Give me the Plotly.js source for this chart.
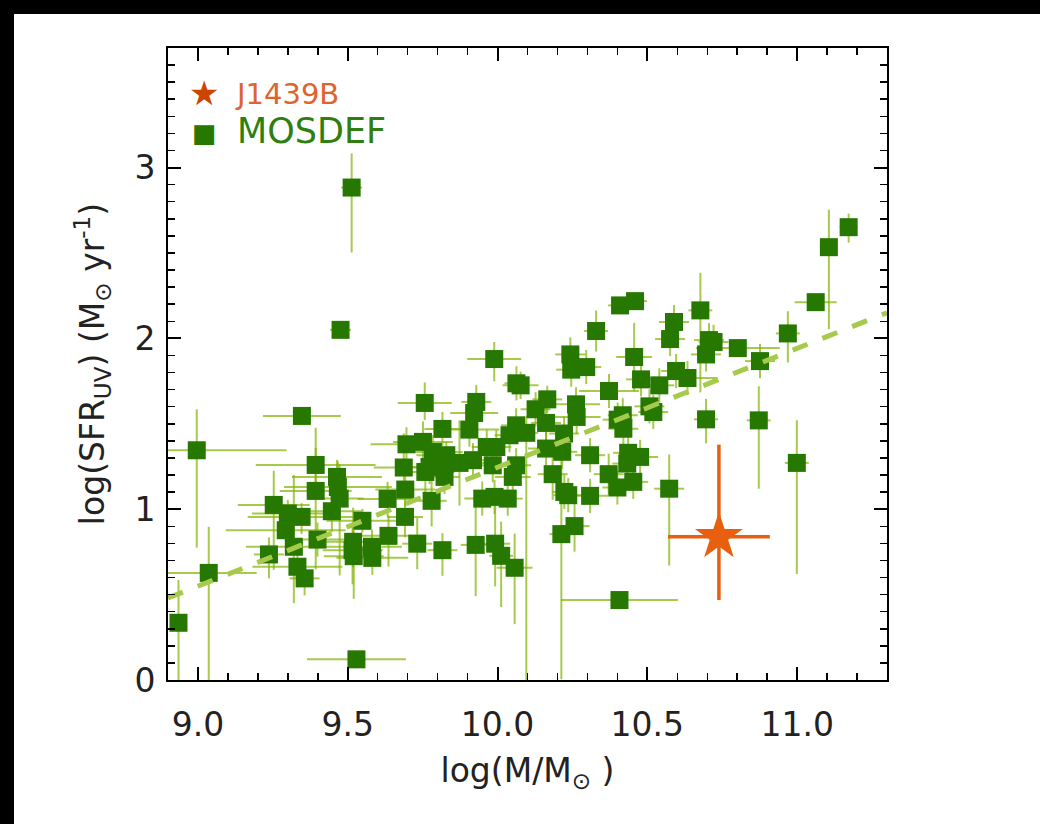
<!DOCTYPE html>
<html>
<head>
<meta charset="utf-8">
<script src="https://cdn.plot.ly/plotly-3.0.1.min.js"></script>
<style>
  html, body { margin: 0; padding: 0; background: #000; }
  #chart { position: absolute; left: 14px; top: 14px; width: 1026px; height: 810px; background: #fff; }
</style>
</head>
<body>
<div id="chart"></div>
<script>
// MOSDEF sample: log stellar mass, log SFR(UV) and errors
const mass = [8.935, 8.996, 9.036, 9.237, 9.253, 9.300, 9.346, 9.293, 9.320, 9.332, 9.356, 9.347, 9.393, 9.393, 9.399, 9.447, 9.464, 9.467, 9.473, 9.476, 9.513, 9.529, 9.516, 9.518, 9.520, 9.549, 9.581, 9.582, 9.633, 9.636, 9.687, 9.692, 9.691, 9.696, 9.751, 9.757, 9.759, 9.780, 9.732, 9.816, 9.816, 9.823, 9.826, 9.829, 9.784, 9.773, 9.873, 9.906, 9.918, 9.922, 9.929, 9.927, 9.949, 9.964, 9.996, 9.984, 9.989, 9.990, 9.992, 10.012, 10.034, 10.040, 10.051, 10.057, 10.062, 10.062, 10.063, 10.077, 10.096, 10.127, 10.162, 10.166, 10.162, 10.184, 10.216, 10.213, 10.222, 10.223, 10.236, 10.243, 10.246, 10.257, 10.262, 10.264, 10.296, 10.309, 10.309, 10.329, 10.371, 10.372, 10.400, 10.401, 10.407, 10.409, 10.418, 10.420, 10.433, 10.436, 10.453, 10.456, 10.459, 10.476, 10.479, 10.507, 10.520, 10.540, 10.573, 10.576, 10.589, 10.596, 10.634, 10.677, 10.696, 10.696, 10.706, 10.721, 10.802, 10.872, 10.876, 10.969, 10.999, 11.062, 11.106, 11.172];
const sfr = [0.335, 1.345, 0.627, 0.735, 1.025, 0.975, 0.955, 0.877, 0.780, 0.663, 0.595, 1.546, 1.259, 1.107, 0.822, 0.988, 1.189, 1.130, 1.062, 2.050, 2.883, 0.121, 0.760, 0.809, 0.725, 0.932, 0.780, 0.715, 1.060, 0.844, 1.244, 1.115, 0.955, 1.380, 1.394, 1.622, 1.218, 1.049, 0.798, 0.760, 1.470, 1.189, 1.267, 1.316, 1.335, 1.247, 1.271, 1.466, 1.287, 1.563, 1.628, 0.791, 1.062, 1.364, 1.364, 1.257, 1.879, 1.072, 0.798, 0.727, 1.062, 1.433, 1.189, 0.657, 1.491, 1.257, 1.737, 1.725, 1.447, 1.585, 1.505, 1.643, 1.355, 1.205, 1.336, 0.854, 1.443, 1.101, 1.082, 1.906, 1.817, 0.901, 1.614, 1.540, 1.832, 1.078, 1.316, 2.043, 1.205, 1.692, 1.127, 1.524, 0.468, 2.193, 1.550, 1.471, 1.267, 1.330, 1.160, 1.891, 2.218, 1.306, 1.760, 1.602, 1.569, 1.725, 1.120, 1.996, 2.096, 1.809, 1.768, 2.164, 1.906, 1.526, 1.990, 1.979, 1.943, 1.520, 1.867, 2.029, 1.271, 2.212, 2.534, 2.651];
const massErr = [0.02, 0.30, 0.16, 0.05, 0.12, 0.12, 0.18, 0.20, 0.16, 0.15, 0.05, 0.13, 0.20, 0.12, 0.10, 0.10, 0.15, 0.18, 0.08, 0.035, 0.035, 0.165, 0.10, 0.12, 0.10, 0.12, 0.10, 0.12, 0.10, 0.12, 0.10, 0.10, 0.06, 0.12, 0.10, 0.09, 0.08, 0.05, 0.05, 0.05, 0.06, 0.05, 0.08, 0.10, 0.10, 0.08, 0.10, 0.10, 0.05, 0.08, 0.05, 0.05, 0.06, 0.05, 0.05, 0.05, 0.09, 0.05, 0.05, 0.04, 0.05, 0.05, 0.06, 0.06, 0.05, 0.05, 0.04, 0.06, 0.04, 0.05, 0.05, 0.05, 0.06, 0.05, 0.05, 0.04, 0.05, 0.04, 0.05, 0.05, 0.05, 0.05, 0.08, 0.08, 0.05, 0.06, 0.05, 0.04, 0.05, 0.10, 0.05, 0.05, 0.195, 0.04, 0.05, 0.05, 0.05, 0.05, 0.05, 0.06, 0.04, 0.06, 0.05, 0.05, 0.05, 0.05, 0.05, 0.05, 0.05, 0.05, 0.10, 0.04, 0.05, 0.04, 0.05, 0.05, 0.14, 0.04, 0.05, 0.04, 0.04, 0.07, 0.03, 0.03];
const sfrErrUp = [0.25, 0.24, 0.27, 0.10, 0.20, 0.08, 0.08, 0.06, 0.42, 0.12, 0.05, 0.05, 0.10, 0.37, 0.10, 0.12, 0.10, 0.15, 0.20, 0.03, 0.20, 0.02, 0.15, 0.20, 0.15, 0.07, 0.10, 0.08, 0.10, 0.12, 0.20, 0.10, 0.10, 0.10, 0.12, 0.12, 0.10, 0.15, 0.15, 0.10, 0.10, 0.12, 0.10, 0.08, 0.10, 0.10, 0.25, 0.15, 0.10, 0.10, 0.10, 0.25, 0.10, 0.10, 0.10, 0.10, 0.10, 0.10, 0.25, 0.20, 0.10, 0.10, 0.10, 0.20, 0.10, 0.10, 0.10, 0.08, 0.10, 0.10, 0.10, 0.08, 0.10, 0.15, 0.10, 0.55, 0.10, 0.10, 0.10, 0.10, 0.10, 0.15, 0.10, 0.10, 0.10, 0.10, 0.10, 0.12, 0.12, 0.10, 0.10, 0.10, 0.02, 0.03, 0.10, 0.10, 0.10, 0.10, 0.10, 0.20, 0.03, 0.10, 0.10, 0.10, 0.10, 0.10, 0.20, 0.10, 0.10, 0.10, 0.10, 0.22, 0.10, 0.12, 0.10, 0.10, 0.05, 0.20, 0.10, 0.13, 0.25, 0.03, 0.22, 0.08];
const sfrErrDown = [0.40, 0.57, 0.65, 0.14, 0.38, 0.08, 0.10, 0.06, 0.33, 0.12, 0.10, 0.05, 0.10, 0.46, 0.10, 0.12, 0.10, 0.15, 0.45, 0.03, 0.38, 0.02, 0.20, 0.15, 0.25, 0.07, 0.10, 0.10, 0.10, 0.18, 0.15, 0.10, 0.12, 0.10, 0.10, 0.10, 0.15, 0.15, 0.15, 0.15, 0.10, 0.10, 0.12, 0.08, 0.10, 0.10, 0.25, 0.10, 0.10, 0.10, 0.10, 0.30, 0.10, 0.10, 0.10, 0.10, 0.13, 0.10, 0.25, 0.30, 0.10, 0.10, 0.10, 0.33, 0.10, 0.10, 0.10, 0.08, 1.45, 0.10, 0.10, 0.08, 0.10, 0.15, 0.10, 0.85, 0.10, 0.10, 0.10, 0.10, 0.10, 0.15, 0.10, 0.10, 0.10, 0.10, 0.10, 0.12, 0.12, 0.10, 0.10, 0.10, 0.02, 0.03, 0.10, 0.10, 0.10, 0.10, 0.10, 0.20, 0.03, 0.10, 0.10, 0.10, 0.10, 0.10, 0.45, 0.10, 0.10, 0.10, 0.10, 0.48, 0.10, 0.14, 0.10, 0.10, 0.05, 0.40, 0.10, 0.17, 0.65, 0.03, 0.48, 0.09];

// J1439B
const j1439Mass = [10.739];
const j1439Sfr = [0.838];
const j1439MassErr = [0.17];
const j1439SfrErrUp = [0.54];
const j1439SfrErrDown = [0.37];

// Dashed MOSDEF relation (end points)
const fitMass = [8.9, 11.3];
const fitSfr = [0.48, 2.15];

// Axis ticks
const xTickVals = [9.0, 9.5, 10.0, 10.5, 11.0];
const xTickText = ['9.0', '9.5', '10.0', '10.5', '11.0'];
const yTickVals = [0, 1, 2, 3];
const yTickText = ['0', '1', '2', '3'];

const legendNames = ['J1439B', 'MOSDEF'];

const FONT = 'DejaVu Sans, Verdana, sans-serif';
const errColor = 'rgba(128,180,0,0.7)';

const traces = [
  {
    x: mass, y: sfr, type: 'scatter', mode: 'markers', name: legendNames[1],
    marker: { symbol: 'square', size: 18, color: '#267800', line: { width: 0 } },
    error_x: { type: 'data', array: massErr, color: errColor, thickness: 2, width: 0 },
    error_y: { type: 'data', symmetric: false, array: sfrErrUp, arrayminus: sfrErrDown, color: errColor, thickness: 2, width: 0 },
    showlegend: false, hoverinfo: 'x+y'
  },
  {
    x: fitMass, y: fitSfr, type: 'scatter', mode: 'lines',
    line: { color: '#a6ca4c', width: 5, dash: '16px,16px' },
    showlegend: false, hoverinfo: 'skip'
  },
  {
    x: j1439Mass, y: j1439Sfr, type: 'scatter', mode: 'markers', name: legendNames[0],
    marker: { symbol: 'star', size: 36, color: '#e85f10', line: { width: 0 } },
    error_x: { type: 'data', array: j1439MassErr, color: '#e85f10', thickness: 3.5, width: 0 },
    error_y: { type: 'data', symmetric: false, array: j1439SfrErrUp, arrayminus: j1439SfrErrDown, color: '#e85f10', thickness: 3.5, width: 0 },
    showlegend: false
  }
];

const axisCommon = {
  showgrid: false, zeroline: false, showline: true, linecolor: '#000', linewidth: 2,
  mirror: 'ticks', ticks: 'inside', ticklen: 13, tickwidth: 2, tickcolor: '#000',
  tickfont: { family: FONT, size: 33, color: '#222' }
};

const layout = {
  width: 1026, height: 810,
  margin: { l: 154, r: 153, t: 34, b: 144 },
  paper_bgcolor: '#fff', plot_bgcolor: '#fff',
  showlegend: false,
  xaxis: Object.assign({}, axisCommon, {
    range: [8.9, 11.3], tickvals: xTickVals, ticktext: xTickText,
    minor: { dtick: 0.1, ticks: 'inside', ticklen: 7, tickwidth: 1.5, tickcolor: '#000' },
    ticklabelstandoff: 14,
    title: { text: 'log(M/M<sub>⊙</sub> )', font: { family: FONT, size: 33, color: '#222' }, standoff: 16 }
  }),
  yaxis: Object.assign({}, axisCommon, {
    range: [0, 3.7], tickvals: yTickVals, ticktext: yTickText,
    minor: { dtick: 0.1, ticks: 'inside', ticklen: 7, tickwidth: 1.5, tickcolor: '#000' },
    ticklabelstandoff: 4,
    title: { text: 'log(SFR<sub>UV</sub>) (M<sub>⊙</sub> yr<sup>-1</sup>)', font: { family: FONT, size: 33, color: '#222' }, standoff: 20 }
  }),
  annotations: [
    { xref: 'paper', yref: 'paper', x: 0.0505, y: 0.929, xanchor: 'center', yanchor: 'middle', showarrow: false,
      text: '★', font: { family: FONT, size: 34, color: '#cc4400' } },
    { xref: 'paper', yref: 'paper', x: 0.0918, y: 0.927, xanchor: 'left', yanchor: 'middle', showarrow: false,
      borderpad: 0,
      text: legendNames[0], font: { family: FONT, size: 29, color: '#e0622c' } },
    { xref: 'paper', yref: 'paper', x: 0.0505, y: 0.866, xanchor: 'center', yanchor: 'middle', showarrow: false,
      text: '■', font: { family: FONT, size: 26, color: '#267800' } },
    { xref: 'paper', yref: 'paper', x: 0.0950, y: 0.8687, xanchor: 'left', yanchor: 'middle', showarrow: false,
      borderpad: 0,
      text: legendNames[1], font: { family: FONT, size: 35, color: '#2f7f10' } }
  ]
};

Plotly.newPlot('chart', traces, layout, { displayModeBar: false, staticPlot: true });
</script>
</body>
</html>
